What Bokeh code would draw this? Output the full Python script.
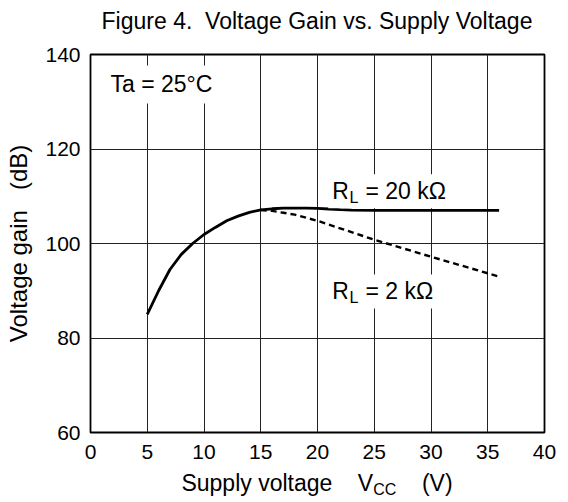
import math
from bokeh.plotting import figure
from bokeh.models import Range1d, FixedTicker, Label, Div
from bokeh.layouts import column
from bokeh.embed import file_html
from bokeh.resources import INLINE

# ---- data ----
x_ticks = [0, 5, 10, 15, 20, 25, 30, 35, 40]
y_ticks = [60, 80, 100, 120, 140]

vcc_20k = [5, 6, 7, 8, 9, 10, 11, 12, 13, 14, 15, 16, 17, 18, 19, 20, 21, 22, 23, 25, 30, 36]
gain_20k = [85, 90, 94.5, 97.7, 100, 101.9, 103.4, 104.8, 105.8, 106.6, 107.1, 107.35,
            107.5, 107.5, 107.5, 107.45, 107.3, 107.15, 107.05, 107.0, 107.0, 107.0]

vcc_2k = [15, 16, 17, 18, 20, 22, 25, 30, 36]
gain_2k = [107.1, 106.9, 106.5, 106.1, 104.8, 103.2, 100.8, 97.2, 93.0]

NB = "\u00a0"
title_text = "Figure 4.&nbsp; Voltage Gain vs. Supply Voltage"
y_label = "Voltage gain" + NB * 3 + "(dB)"
FONT = "Liberation Sans"

# title (HTML, above the figure)
tdiv = Div(text=title_text, width=454, height=30, margin=(10, 0, 0, 90),
           styles={"font-family": FONT, "font-size": "23px", "line-height": "22px",
                   "color": "black", "text-align": "center", "white-space": "nowrap"})

p = figure(width=560, height=432, output_backend="svg", toolbar_location=None,
           x_range=Range1d(0, 40), y_range=Range1d(60, 140),
           min_border_left=90, min_border_right=16, min_border_top=14, min_border_bottom=40)
p.title.text = ""
p.title.standoff = 0
p.title.text_font_size = "1px"
p.background_fill_color = "white"
p.border_fill_color = "white"
p.outline_line_color = "black"
p.outline_line_width = 1.8
p.outline_line_alpha = 1.0

for ax in (p.xaxis, p.yaxis):
    ax.axis_line_color = None
    ax.major_tick_line_color = None
    ax.minor_tick_line_color = None
    ax.major_tick_out = 0
    ax.major_tick_in = 0
    ax.minor_tick_out = 0
    ax.minor_tick_in = 0
    ax.major_label_text_font = FONT
    ax.major_label_text_font_size = "21px"
    ax.major_label_text_color = "black"
p.xaxis.ticker = FixedTicker(ticks=x_ticks)
p.yaxis.ticker = FixedTicker(ticks=y_ticks)
p.xaxis.major_label_standoff = 12
p.yaxis.major_label_standoff = 10

p.yaxis.axis_label = y_label
p.yaxis.axis_label_text_font = FONT
p.yaxis.axis_label_text_font_size = "24px"
p.yaxis.axis_label_text_font_style = "normal"
p.yaxis.axis_label_text_color = "black"
p.yaxis.axis_label_standoff = 10

p.xgrid.ticker = FixedTicker(ticks=x_ticks)
p.ygrid.ticker = FixedTicker(ticks=y_ticks)
for g in (p.xgrid, p.ygrid):
    g.grid_line_color = "#222222"
    g.grid_line_width = 1
    g.grid_line_alpha = 1.0

p.line(vcc_20k, gain_20k, line_color="black", line_width=2.8)
p.line(vcc_2k, gain_2k, line_color="black", line_width=2.4, line_dash="6 4")

def lab(x, y, text, size, pad=4):
    l = Label(x=x, y=y, text=text, text_font=FONT, text_font_size=size,
              text_color="black", text_align="left", text_baseline="alphabetic",
              background_fill_color="white", padding=pad,
              x_offset=-pad, y_offset=pad)
    p.add_layout(l)

# Ta label
lab(1.76, 132.4, "Ta = 25°C", "23px", pad=6)
# RL = 20k
lab(21.3, 110.2, "R", "23px")
lab(22.82, 109.35, "L", "16px", pad=2)
lab(24.23, 110.2, "= 20 kΩ", "23px")
# RL = 2k
lab(21.3, 89.0, "R", "23px")
lab(22.82, 88.15, "L", "16px", pad=2)
lab(24.23, 89.0, "= 2 kΩ", "23px")

sp = "&nbsp;" * 4
x_label_html = ("Supply voltage" + sp + "V"
                + '<span style="font-size:16px;position:relative;top:4px;">CC</span>'
                + sp + "(V)")
xdiv = Div(text=x_label_html, width=454, height=26, margin=(0, 0, 0, 90),
           styles={"font-family": FONT, "font-size": "23px", "line-height": "23px",
                   "color": "black", "text-align": "center", "white-space": "nowrap"})

layout = column(tdiv, p, xdiv, spacing=0)
open("out.html", "w").write(file_html(layout, INLINE))
